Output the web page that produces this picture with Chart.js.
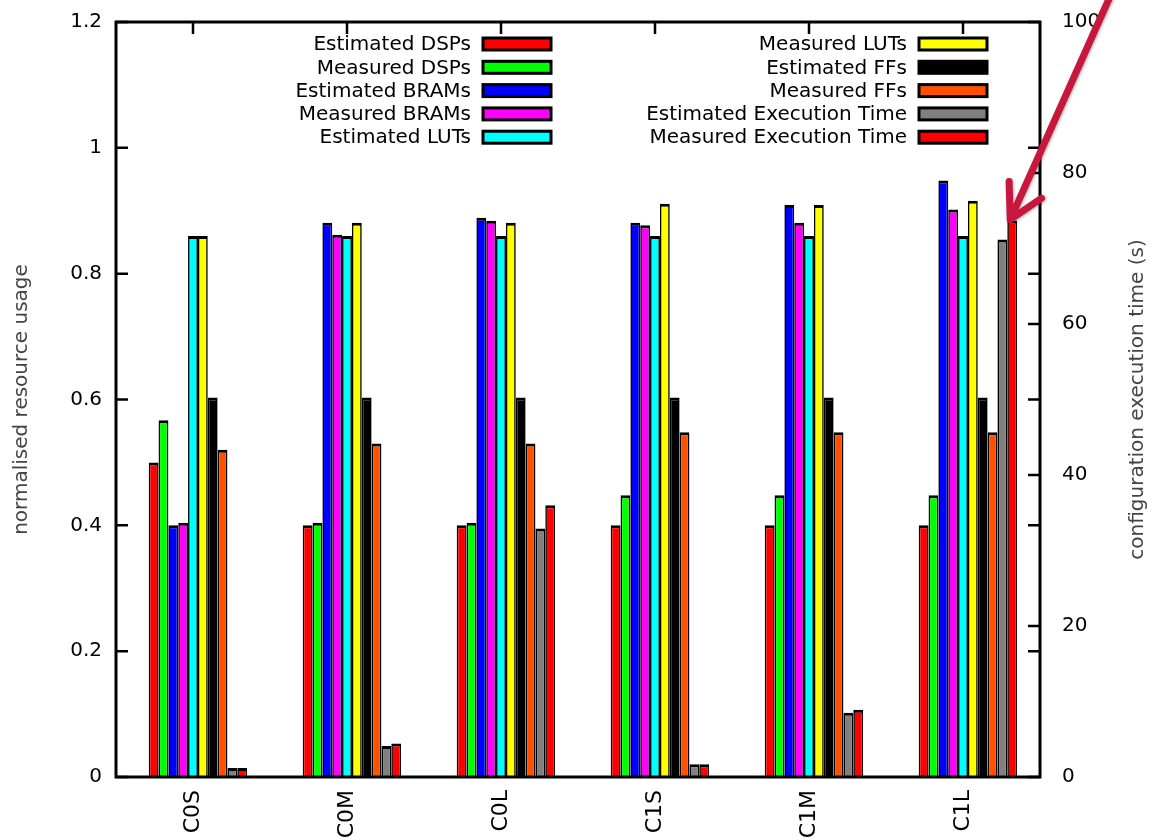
<!DOCTYPE html>
<html>
<head>
<meta charset="utf-8">
<script src="https://cdn.jsdelivr.net/npm/chart.js@4.4.0/dist/chart.umd.min.js"></script>
<style>
  html, body { margin: 0; padding: 0; background: #fff; }
  #wrap { width: 1154px; height: 840px; }
</style>
</head>
<body>
<div id="wrap"><canvas id="chart" width="1154" height="840"></canvas></div>
<script>
// values
const categories = ["C0S", "C0M", "C0L", "C1S", "C1M", "C1L"];

const estimatedDSPs  = [0.5,   0.4,   0.4,   0.4,   0.4,   0.4];
const measuredDSPs   = [0.567, 0.404, 0.404, 0.448, 0.448, 0.448];
const estimatedBRAMs = [0.4,   0.881, 0.889, 0.881, 0.909, 0.948];
const measuredBRAMs  = [0.404, 0.862, 0.884, 0.877, 0.881, 0.902];
const estimatedLUTs  = [0.86,  0.86,  0.86,  0.86,  0.86,  0.86];
const measuredLUTs   = [0.86,  0.881, 0.881, 0.911, 0.909, 0.916];
const estimatedFFs   = [0.603, 0.603, 0.603, 0.603, 0.603, 0.603];
const measuredFFs    = [0.52,  0.53,  0.53,  0.548, 0.548, 0.548];
// seconds, right axis
const estimatedTime  = [1.2, 4.1,  32.9, 1.7, 8.5, 71.2];
const measuredTime   = [1.2, 4.45, 36.0, 1.7, 8.9, 73.7];

const leftTicks  = [0, 0.2, 0.4, 0.6, 0.8, 1, 1.2];
const rightTicks = [0, 20, 40, 60, 80, 100];

const leftTitle  = "normalised resource usage";
const rightTitle = "configuration execution time (s)";

Chart.defaults.font.family = "'DejaVu Sans', sans-serif";
Chart.defaults.font.size = 20;
Chart.defaults.color = "#000";

function series(label, data, color, axis) {
  return {
    label: label,
    data: data,
    backgroundColor: color,
    borderColor: "#000",
    borderWidth: { top: 3, left: 1.6, right: 1.6, bottom: 0 },
    categoryPercentage: 0.703,
    barPercentage: 1.0,
    yAxisID: axis || "y"
  };
}

let datasets = [
  // empty slot so the cluster sits half a bar right of the tick, like gnuplot
  { label: "", data: [null, null, null, null, null, null], spacer: true,
    categoryPercentage: 0.703, barPercentage: 1.0, yAxisID: "y" },
  series("Estimated DSPs", estimatedDSPs, "#ff0000"),
  series("Measured DSPs", measuredDSPs, "#00ff00"),
  series("Estimated BRAMs", estimatedBRAMs, "#0000ff"),
  series("Measured BRAMs", measuredBRAMs, "#ff00ff"),
  series("Estimated LUTs", estimatedLUTs, "#00ffff"),
  series("Measured LUTs", measuredLUTs, "#ffff00"),
  series("Estimated FFs", estimatedFFs, "#000000"),
  series("Measured FFs", measuredFFs, "#ff5000"),
  series("Estimated Execution Time", estimatedTime, "#808080", "y2"),
  series("Measured Execution Time", measuredTime, "#ff0000", "y2")
];

// frame, inward ticks, legend, axis titles, arrow
const decorations = {
  id: "decorations",
  afterDatasetsDraw(chart) {
    const ctx = chart.ctx;
    const a = chart.chartArea;
    const y = chart.scales.y, y2 = chart.scales.y2, x = chart.scales.x;
    ctx.save();
    ctx.strokeStyle = "#000";
    ctx.lineWidth = 3;
    ctx.strokeRect(a.left, a.top, a.right - a.left, a.bottom - a.top);
    ctx.lineWidth = 2.5;
    ctx.beginPath();
    for (let t of y.ticks) {
      let py = y.getPixelForValue(t.value);
      ctx.moveTo(a.left, py); ctx.lineTo(a.left + 12, py);
      ctx.moveTo(a.right, py); ctx.lineTo(a.right - 12, py);
    }
    for (let t of y2.ticks) {
      let py = y2.getPixelForValue(t.value);
      ctx.moveTo(a.right, py); ctx.lineTo(a.right - 12, py);
    }
    for (let i = 0; i < categories.length; i++) {
      let px = x.getPixelForValue(i);
      ctx.moveTo(px, a.top); ctx.lineTo(px, a.top + 12);
    }
    ctx.stroke();

    // legend: text right-aligned, key box to its right, two columns
    ctx.font = "20px 'DejaVu Sans', sans-serif";
    ctx.textAlign = "right";
    ctx.textBaseline = "middle";
    let items = chart.data.datasets.filter(d => !d.spacer);
    items.forEach((d, i) => {
      let col = i < 5 ? 0 : 1;
      let row = i % 5;
      let boxX = a.left + (col === 0 ? 367 : 803);
      let cy = a.top + 22 + row * 23.3;
      ctx.fillStyle = "#000";
      ctx.fillText(d.label, boxX - 12, cy + 1);
      ctx.fillStyle = d.backgroundColor;
      ctx.fillRect(boxX, cy - 6, 68, 12);
      ctx.lineWidth = 3;
      ctx.strokeRect(boxX, cy - 6, 68, 12);
    });

    // axis titles, both reading bottom to top
    ctx.fillStyle = "#444";
    ctx.textAlign = "center";
    let midY = (a.top + a.bottom) / 2;
    ctx.save();
    ctx.translate(22, midY);
    ctx.rotate(-Math.PI / 2);
    ctx.fillText(leftTitle, 0, 0);
    ctx.restore();
    ctx.save();
    ctx.translate(1138, midY);
    ctx.rotate(-Math.PI / 2);
    ctx.fillText(rightTitle, 0, 0);
    ctx.restore();
    ctx.restore();
  },
  afterDraw(chart) {
    // annotation arrow pointing at the last measured execution time bar
    const ctx = chart.ctx;
    let last = chart.data.datasets.length - 1;
    let bar = chart.getDatasetMeta(last).data[categories.length - 1];
    let tx = bar.x - 2, ty = bar.y - 1;
    let ang = Math.atan2(-219, 98);
    let len = (ty + 10) / Math.sin(-ang);
    ctx.save();
    ctx.strokeStyle = "#c8173c";
    ctx.lineWidth = 7;
    ctx.lineCap = "round";
    ctx.lineJoin = "round";
    ctx.shadowColor = "rgba(0,0,0,0.3)";
    ctx.shadowBlur = 3;
    ctx.shadowOffsetX = 1;
    ctx.shadowOffsetY = 1;
    ctx.beginPath();
    ctx.moveTo(tx + Math.cos(ang) * len, ty + Math.sin(ang) * len);
    ctx.lineTo(tx, ty);
    ctx.moveTo(tx + Math.cos(ang - 0.45) * 38, ty + Math.sin(ang - 0.45) * 38);
    ctx.lineTo(tx, ty);
    ctx.lineTo(tx + Math.cos(ang + 0.55) * 38, ty + Math.sin(ang + 0.55) * 38);
    ctx.stroke();
    ctx.restore();
  }
};

// tick label padding should not push the plot area down
function noEdgePadding(s) {
  s.paddingTop = 0;
  s.paddingBottom = 0;
}

new Chart(document.getElementById("chart"), {
  type: "bar",
  data: {
    labels: categories,
    datasets: datasets
  },
  options: {
    responsive: false,
    animation: false,
    devicePixelRatio: 1,
    layout: { padding: { top: 22, left: 0, right: 0, bottom: 0 } },
    plugins: { legend: { display: false }, tooltip: { enabled: false } },
    scales: {
      x: {
        grid: { display: false, drawTicks: false },
        border: { display: false },
        ticks: { minRotation: 90, maxRotation: 90, padding: 13, font: { size: 22 } },
        afterFit: s => { s.height = 63; }
      },
      y: {
        position: "left",
        min: 0,
        max: 1.2,
        grid: { display: false, drawTicks: false },
        border: { display: false },
        ticks: { padding: 14, callback: v => String(v) },
        afterBuildTicks: s => { s.ticks = leftTicks.map(v => ({ value: v })); },
        afterFit: s => { s.width = 116; noEdgePadding(s); }
      },
      y2: {
        position: "right",
        min: 0,
        max: 100,
        grid: { display: false, drawTicks: false },
        border: { display: false },
        ticks: { padding: 22, callback: v => String(v) },
        afterBuildTicks: s => { s.ticks = rightTicks.map(v => ({ value: v })); },
        afterFit: s => { s.width = 114; noEdgePadding(s); }
      }
    }
  },
  plugins: [decorations]
});
</script>
</body>
</html>
